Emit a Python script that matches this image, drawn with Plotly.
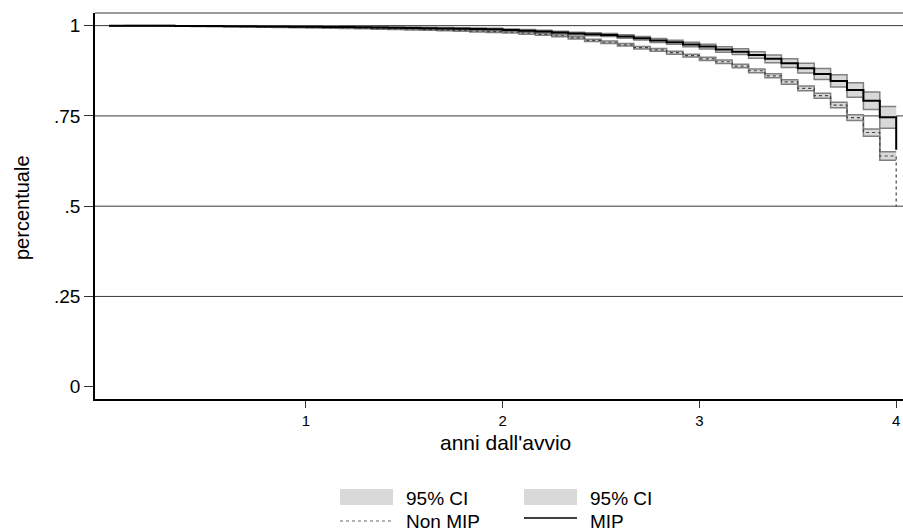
import plotly.graph_objects as go

# ---------------- data ----------------
# monthly step grid (years); 48 monthly intervals over 4 years
months = [round(k / 12, 5) for k in range(48)]
t_end = 4.0

mip = [1.0, 1.0, 0.9997, 0.9995, 0.9993, 0.999, 0.9988, 0.9985, 0.9982, 0.9979, 0.9976, 0.9972,
       0.9968, 0.9964, 0.996, 0.9955, 0.995, 0.9944, 0.9938, 0.9931, 0.9924, 0.9916, 0.9907, 0.9897,
       0.988, 0.986, 0.984, 0.981, 0.978, 0.976, 0.974, 0.970, 0.965, 0.959, 0.954, 0.948,
       0.942, 0.934, 0.928, 0.919, 0.908, 0.896, 0.882, 0.866, 0.847, 0.822, 0.792, 0.746]
mip_end = 0.656
mip_ci_hw = [0.0, 0.0003, 0.0005, 0.0006, 0.0007, 0.0008, 0.0009, 0.001, 0.0011, 0.0012, 0.0013, 0.0014,
             0.0015, 0.0016, 0.0017, 0.0018, 0.0019, 0.002, 0.0021, 0.0022, 0.0023, 0.0025, 0.0027, 0.0029,
             0.003, 0.0032, 0.0034, 0.0036, 0.0038, 0.004, 0.0043, 0.0046, 0.005, 0.0054, 0.0058, 0.0063,
             0.0068, 0.0074, 0.008, 0.009, 0.011, 0.012, 0.0135, 0.015, 0.017, 0.020, 0.024, 0.030]

nonmip = [1.0, 0.9998, 0.9995, 0.9992, 0.9989, 0.9985, 0.9981, 0.9977, 0.9972, 0.9967, 0.9962, 0.9956,
          0.995, 0.9943, 0.9936, 0.9928, 0.992, 0.9911, 0.9901, 0.989, 0.9878, 0.9865, 0.985, 0.9835,
          0.982, 0.979, 0.976, 0.972, 0.966, 0.959, 0.954, 0.947, 0.939, 0.933, 0.925, 0.917,
          0.908, 0.900, 0.888, 0.875, 0.861, 0.844, 0.826, 0.806, 0.780, 0.745, 0.704, 0.639]
nonmip_end = 0.50
nonmip_ci_hw = [0.0, 0.0002, 0.0003, 0.0004, 0.0005, 0.0006, 0.0007, 0.0008, 0.0009, 0.001, 0.0011, 0.0012,
                0.0013, 0.0014, 0.0015, 0.0016, 0.0017, 0.0018, 0.0019, 0.002, 0.0021, 0.0022, 0.0023, 0.0024,
                0.0025, 0.0026, 0.0027, 0.0028, 0.003, 0.0031, 0.0032, 0.0034, 0.0035, 0.0037, 0.0039, 0.0041,
                0.0043, 0.0046, 0.0049, 0.0052, 0.0056, 0.006, 0.0065, 0.007, 0.0075, 0.008, 0.010, 0.012]

x_ticks = [1, 2, 3, 4]
x_ticklabels = ["1", "2", "3", "4"]
y_ticks = [0, 0.25, 0.5, 0.75, 1]
y_ticklabels = ["0", ".25", ".5", ".75", "1"]
grid_vals = [0.25, 0.5, 0.75, 1]

legend_labels = [["95% CI", "Non MIP"], ["95% CI", "MIP"]]

# ---------------- styling / layout ----------------
FONT = "Liberation Sans, Arial, Helvetica, sans-serif"
W, H = 903, 530
L, R, T, B = 95, 0, 13, 131
PW, PH = W - L - R, H - T - B
BAND_FILL = "#d9d9d9"
BAND_EDGE = "#808080"
X0_PX, PX_PER_YEAR = 109, 196.8


def px_x(p):
    return (p - L) / PW


def px_y(p):
    return (H - B - p) / PH


fig = go.Figure()

band_x = months + [t_end]
for vals, hw in [(nonmip, nonmip_ci_hw), (mip, mip_ci_hw)]:
    hi = [v + h for v, h in zip(vals, hw)] + [vals[-1] + hw[-1]]
    lo = [v - h for v, h in zip(vals, hw)] + [vals[-1] - hw[-1]]
    fig.add_trace(go.Scatter(x=band_x, y=hi, mode="lines",
                             line=dict(color=BAND_EDGE, width=1.5, shape="hv"),
                             showlegend=False, hoverinfo="skip"))
    fig.add_trace(go.Scatter(x=band_x, y=lo, mode="lines", fill="tonexty",
                             fillcolor=BAND_FILL,
                             line=dict(color=BAND_EDGE, width=1.5, shape="hv"),
                             showlegend=False, hoverinfo="skip"))

fig.add_trace(go.Scatter(x=months + [t_end], y=nonmip + [nonmip_end], mode="lines",
                         line=dict(color="#444444", width=1.2, dash="dot", shape="hv"),
                         name="Non MIP", showlegend=False))
fig.add_trace(go.Scatter(x=months + [t_end], y=mip + [mip_end], mode="lines",
                         line=dict(color="#000000", width=2, shape="hv"),
                         name="MIP", showlegend=False))

shapes = []
for g in grid_vals:
    shapes.append(dict(type="line", xref="paper", yref="y", x0=0, x1=1, y0=g, y1=g,
                       line=dict(color="#3a3a3a", width=1), layer="below"))
# top border
shapes.append(dict(type="line", xref="paper", yref="paper", x0=0, x1=1, y0=1, y1=1,
                   line=dict(color="#7a7a7a", width=1.5)))

# manual legend (two columns, two rows)
col_x = [340, 524]
row_y = [497, 520]
annotations = []
for ci, col in enumerate(legend_labels):
    x0 = col_x[ci]
    x1 = x0 + 53
    shapes.append(dict(type="rect", xref="paper", yref="paper",
                       x0=px_x(x0), x1=px_x(x1), y0=px_y(row_y[0] + 8), y1=px_y(row_y[0] - 8),
                       fillcolor=BAND_FILL, line=dict(width=0)))
    if ci == 0:
        ln = dict(color="#666666", width=1, dash="dot")
        ly = row_y[1] + 1
    else:
        ln = dict(color="#000000", width=1.5)
        ly = row_y[1] - 2
    shapes.append(dict(type="line", xref="paper", yref="paper",
                       x0=px_x(x0), x1=px_x(x1), y0=px_y(ly), y1=px_y(ly), line=ln))
    for ri, lab in enumerate(col):
        annotations.append(dict(text=lab, xref="paper", yref="paper",
                                x=px_x(x1 + 11), y=px_y(row_y[ri] + 1),
                                xanchor="left", yanchor="middle", showarrow=False,
                                font=dict(family=FONT, size=19, color="#000")))

# axis titles
annotations.append(dict(text="anni dall'avvio", xref="paper", yref="paper",
                        x=px_x(505), y=px_y(442), xanchor="center", yanchor="middle",
                        showarrow=False, font=dict(family=FONT, size=21, color="#000")))
annotations.append(dict(text="percentuale", xref="paper", yref="paper",
                        x=px_x(22), y=px_y(208), xanchor="center", yanchor="middle",
                        textangle=-90, showarrow=False,
                        font=dict(family=FONT, size=20, color="#000")))

fig.update_layout(
    width=W, height=H,
    margin=dict(l=L, r=R, t=T, b=B, pad=0),
    paper_bgcolor="white", plot_bgcolor="white",
    font=dict(family=FONT, color="#000"),
    shapes=shapes, annotations=annotations,
    showlegend=False,
    xaxis=dict(range=[(L - X0_PX) / PX_PER_YEAR, (W - X0_PX) / PX_PER_YEAR],
               tickvals=x_ticks, ticktext=x_ticklabels,
               ticks="outside", ticklen=7, tickwidth=1, tickcolor="#333",
               showline=True, linecolor="#000", linewidth=1.5,
               showgrid=False, zeroline=False,
               tickfont=dict(family=FONT, size=15, color="#000")),
    yaxis=dict(range=[-0.034, 1.035],
               tickvals=y_ticks, ticktext=y_ticklabels,
               ticks="outside", ticklen=9, tickwidth=1, tickcolor="#333",
               showline=True, linecolor="#000", linewidth=1.5,
               showgrid=False, zeroline=False,
               tickfont=dict(family=FONT, size=19, color="#000")),
)

fig.write_html(
    "out.html",
    config={"displayModeBar": False},
    post_script="document.body.style.margin='0';document.body.style.overflow='hidden';",
)
